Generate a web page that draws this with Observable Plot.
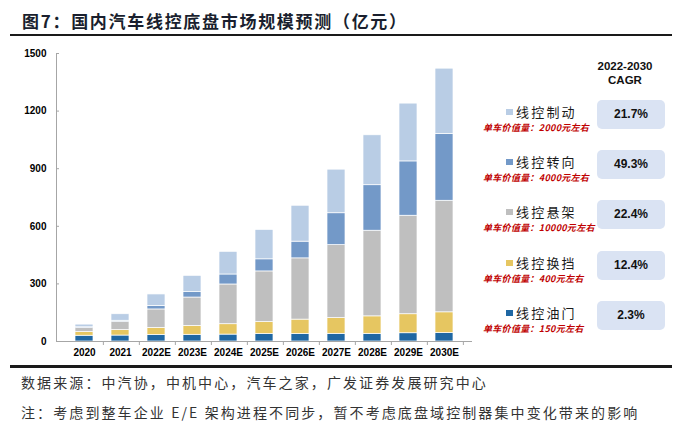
<!DOCTYPE html>
<html><head><meta charset="utf-8">
<script src="https://cdn.jsdelivr.net/npm/d3@7"></script>
<script src="https://cdn.jsdelivr.net/npm/@observablehq/plot@0.6"></script>
<style>
body{margin:0;background:#fff;}
#wrap{position:relative;width:700px;height:433px;overflow:hidden;background:#fff;font-family:"Liberation Sans",Arial,sans-serif;}
.abs{position:absolute;white-space:nowrap;}
#title{left:22px;top:9px;font:bold 17px/24px "Noto Sans CJK SC",sans-serif;color:#1a1f2e;letter-spacing:1.7px;}
.rule{position:absolute;left:10px;width:662px;background:#1a1a1a;}
.foot{left:21px;font:14px/20px "Noto Sans CJK SC",sans-serif;color:#333;letter-spacing:2.1px;}
#chart{position:absolute;left:0;top:40px;}
.cagrhead{left:590px;width:70px;text-align:center;font:bold 11.5px/14px "Liberation Sans",Arial,sans-serif;color:#111;}
.sw{width:7px;height:6px;}
.nm{font:13px/15px "Noto Sans CJK SC",sans-serif;color:#1a1a1a;letter-spacing:2.2px;}
.pv{font:bold 9px/11px "Noto Sans CJK SC",sans-serif;color:#c00000;font-style:italic;letter-spacing:0.3px;}
.box{left:597px;width:68px;height:29px;border-radius:5px;background:#dae3f3;text-align:center;font:bold 12px/29px "Liberation Sans",Arial,sans-serif;color:#111;}
</style></head><body>
<div id="wrap">
  <div id="title" class="abs">图7：国内汽车线控底盘市场规模预测（亿元）</div>
  <div class="rule" style="top:34px;height:2px;"></div>
  <div id="chart"></div>
  <div class="abs cagrhead" style="top:59px;">2022-2030</div>
  <div class="abs cagrhead" style="top:73px;">CAGR</div>
  <div id="legend"></div>
  <div class="rule" style="top:365px;height:2.5px;"></div>
  <div class="abs foot" style="top:372px;">数据来源：中汽协，中机中心，汽车之家，广发证券发展研究中心</div>
  <div class="abs foot" style="top:402px;">注：考虑到整车企业 E/E 架构进程不同步，暂不考虑底盘域控制器集中变化带来的影响</div>
</div>
<script>
const years = ["2020","2021","2022E","2023E","2024E","2025E","2026E","2027E","2028E","2029E","2030E"];
// stacked bottom-up
const seriesNames = ["线控油门","线控换挡","线控悬架","线控转向","线控制动"];
const throttle   = [30, 31, 34, 35, 36, 39, 39, 40, 40, 43, 44];
const shift      = [19, 29, 37, 46, 54, 62, 75, 82, 91, 99, 108];
const suspension = [21, 43, 96, 148, 207, 264, 319, 380, 446, 513, 581];
const steering   = [4, 5, 18, 28, 52, 63, 87, 166, 237, 283, 348];
const brake      = [14, 34, 60, 85, 118, 153, 187, 227, 260, 301, 340];
const colors     = ["#1f67a3","#e6c661","#bfbfbf","#7399c8","#b9cde5"];
const cagr       = ["2.3%","12.4%","22.4%","49.3%","21.7%"];
const unitValue  = ["150","400","10000","4000","2000"];
const yTicks     = [0, 300, 600, 900, 1200, 1500];

const seriesValues = [throttle, shift, suspension, steering, brake];
const data = seriesNames.flatMap((s, i) => years.map((y, j) => ({year: y, series: s, value: seriesValues[i][j]})));

const W = 480, H = 322, ML = 56, MR = 9;
const step = (W - ML - MR) / years.length;

const chart = Plot.plot({
  width: W, height: H, marginTop: 13, marginBottom: 21, marginLeft: ML, marginRight: MR,
  style: {fontFamily: "Liberation Sans, Arial, sans-serif", fontSize: "10px", fontWeight: "bold", color: "#000", background: "transparent"},
  x: {domain: years, padding: 0.5, label: null, axis: null},
  y: {domain: [0, 1500], label: null, axis: null},
  color: {domain: seriesNames, range: colors},
  marks: [
    Plot.barY(data, {x: "year", y: "value", fill: "series", order: seriesNames, stroke: "white", strokeWidth: 0.7}),
    Plot.frame({anchor: "left", stroke: "#a6a6a6"}),
    Plot.frame({anchor: "bottom", stroke: "#a6a6a6"}),
    Plot.axisY({ticks: yTicks, tickSize: 0, tickPadding: 10, tickFormat: d => String(d), label: null}),
    Plot.axisY({ticks: yTicks, tickSize: 3, dx: 3, tickFormat: () => "", stroke: "#a6a6a6", label: null}),
    Plot.axisX({tickSize: 0, tickPadding: 7, label: null}),
    Plot.axisX({tickSize: 4, dx: step / 2, tickFormat: () => "", stroke: "#a6a6a6", label: null})
  ]
});
document.getElementById("chart").appendChild(chart);

// legend, top-down order
const legend = document.getElementById("legend");
const rowTop0 = 100, rowStep = 50.2;
[...seriesNames.keys()].reverse().forEach((i, k) => {
  const top = rowTop0 + k * rowStep;
  const add = (cls, style, text) => {
    const d = document.createElement("div");
    d.className = "abs " + cls;
    d.setAttribute("style", style);
    if (text != null) d.textContent = text;
    legend.appendChild(d);
  };
  add("sw", `left:506px;top:${top + 9}px;background:${colors[i]};`);
  add("nm", `left:516px;top:${top + 4}px;`, seriesNames[i]);
  add("pv", `left:483px;top:${top + 22}px;`, `单车价值量：${unitValue[i]}元左右`);
  add("box", `top:${top}px;`, cagr[i]);
});
</script>
</body></html>
